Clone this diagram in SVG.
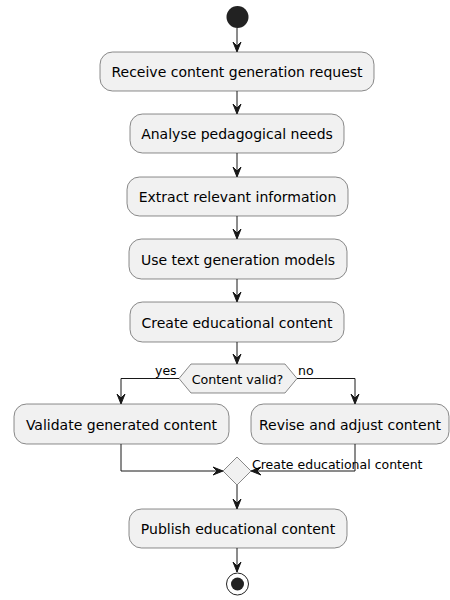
<svg xmlns="http://www.w3.org/2000/svg" width="450" height="600" viewBox="0 0 450 600">
<defs>
<style>
.box{fill:#F1F1F1;stroke:#181818;stroke-width:0.5}
.t{font-family:"DejaVu Sans",sans-serif;font-size:14px;fill:#000;text-anchor:middle}
.d{font-family:"DejaVu Sans",sans-serif;font-size:12.7px;fill:#000;text-anchor:middle}
.l{font-family:"DejaVu Sans",sans-serif;font-size:12.5px;fill:#000}
.c{fill:none;stroke:#181818;stroke-width:1}
.ah{fill:#181818;stroke:#181818;stroke-width:1}
</style>
</defs>
<rect width="450" height="600" fill="#FFFFFF"/>
<g id="start"><circle cx="237.5" cy="17" r="11" fill="#222222"/></g>
<g id="n1"><rect class="box" x="100" y="52" width="274" height="39" rx="12.5"/><text class="t" x="237" y="77">Receive content generation request</text></g>
<g id="n2"><rect class="box" x="130" y="114" width="214" height="39" rx="12.5"/><text class="t" x="237" y="139">Analyse pedagogical needs</text></g>
<g id="n3"><rect class="box" x="127" y="177" width="221" height="39" rx="12.5"/><text class="t" x="237.5" y="202">Extract relevant information</text></g>
<g id="n4"><rect class="box" x="129" y="239" width="218" height="40" rx="12.5"/><text class="t" x="238" y="264.5">Use text generation models</text></g>
<g id="n5"><rect class="box" x="130" y="302" width="214" height="40" rx="12.5"/><text class="t" x="237" y="327.5">Create educational content</text></g>
<g id="decision"><polygon class="box" points="179,378.5 191,364 285,364 297,378.5 285,393 191,393"/><text class="d" x="237.5" y="384">Content valid?</text></g>
<g id="n6"><rect class="box" x="14" y="404" width="215" height="40" rx="12.5"/><text class="t" x="121.5" y="429.5">Validate generated content</text></g>
<g id="n7"><rect class="box" x="251" y="404" width="198" height="40" rx="12.5"/><text class="t" x="350" y="429.5">Revise and adjust content</text></g>
<g id="merge"><polygon class="box" points="237,457 251,471 237,485 223,471"/></g>
<g id="n8"><rect class="box" x="129" y="509" width="218" height="39" rx="12.5"/><text class="t" x="238" y="534">Publish educational content</text></g>
<g id="end"><circle cx="237.5" cy="584" r="11" fill="none" stroke="#222222" stroke-width="1"/><circle cx="237.5" cy="584" r="6.5" fill="#222222"/></g>
<g id="connectors">
<path class="c" d="M237,28 V51"/>
<polygon class="ah" points="233,42 237,52 241,42 237,46"/>
<path class="c" d="M237,91 V113"/>
<polygon class="ah" points="233,104 237,114 241,104 237,108"/>
<path class="c" d="M237,153 V176"/>
<polygon class="ah" points="233,167 237,177 241,167 237,171"/>
<path class="c" d="M237,216 V238"/>
<polygon class="ah" points="233,229 237,239 241,229 237,233"/>
<path class="c" d="M237,279 V301"/>
<polygon class="ah" points="233,292 237,302 241,292 237,296"/>
<path class="c" d="M237,342 V363"/>
<polygon class="ah" points="233,354 237,364 241,354 237,358"/>
<path class="c" d="M179,378.5 H121 V403"/>
<polygon class="ah" points="117,394 121,404 125,394 121,398"/>
<text class="l" x="155" y="375">yes</text>
<path class="c" d="M297,378.5 H355 V403"/>
<polygon class="ah" points="351,394 355,404 359,394 355,398"/>
<text class="l" x="298" y="375">no</text>
<path class="c" d="M121,444 V471 H222"/>
<polygon class="ah" points="213,467 223,471 213,475 217,471"/>
<path class="c" d="M355,444 V471 H252"/>
<polygon class="ah" points="261,467 251,471 261,475 257,471"/>
<text class="l" x="252" y="469">Create educational content</text>
<path class="c" d="M237,485 V508"/>
<polygon class="ah" points="233,499 237,509 241,499 237,503"/>
<path class="c" d="M237,548 V572"/>
<polygon class="ah" points="233,562 237,572 241,562 237,566"/>
</g>
</svg>
